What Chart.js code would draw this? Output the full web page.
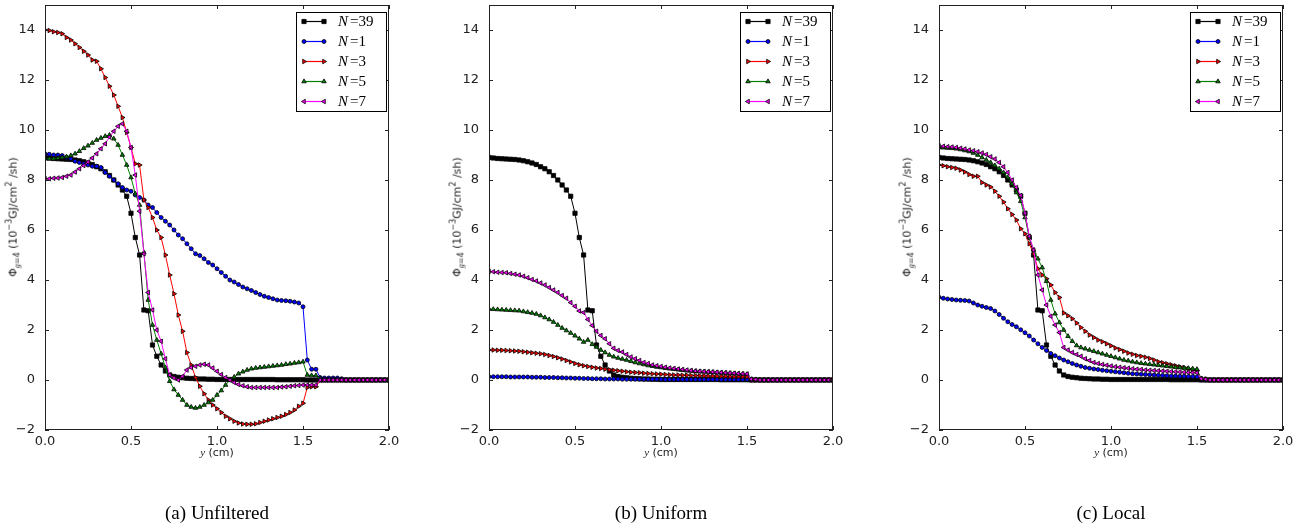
<!DOCTYPE html>
<html>
<head>
<meta charset="utf-8">
<script src="https://cdn.jsdelivr.net/npm/chart.js"></script>
<style>
  body { margin: 0; background: #fff; }
  #page { position: relative; width: 1307px; height: 529px; overflow: hidden; }
  .panel { position: absolute; top: 0; width: 400px; height: 460px; }
  .ytitle {
    position: absolute; top: 217px; white-space: nowrap;
    font: 11px "DejaVu Sans", sans-serif; color: #222;
    transform: translate(-50%, -50%) rotate(-90deg);
  }
  .xtitle {
    position: absolute; top: 452px; white-space: nowrap;
    font: 11px "DejaVu Sans", sans-serif; color: #222;
    transform: translate(-50%, -50%);
  }
  .caption {
    position: absolute; top: 513px; white-space: nowrap;
    font: 19px "Liberation Serif", serif; color: #000;
    transform: translate(-50%, -50%);
  }
  sub, sup { font-size: 8px; }
  i.m { font-family: "Liberation Serif", serif; }
</style>
</head>
<body>
<div id="page"></div>
<script>
// y positions (cm)
const yCm = [
  0, 0.025, 0.05, 0.075, 0.1, 0.125, 0.15, 0.175, 0.2, 0.225,
  0.25, 0.275, 0.3, 0.325, 0.35, 0.375, 0.4, 0.425, 0.45, 0.475,
  0.5, 0.525, 0.55, 0.575, 0.6, 0.625, 0.65, 0.675, 0.7, 0.725,
  0.75, 0.775, 0.8, 0.825, 0.85, 0.875, 0.9, 0.925, 0.95, 0.975,
  1.0, 1.025, 1.05, 1.075, 1.1, 1.125, 1.15, 1.175, 1.2, 1.225,
  1.25, 1.275, 1.3, 1.325, 1.35, 1.375, 1.4, 1.425, 1.45, 1.475,
  1.5, 1.525, 1.55, 1.575, 1.6, 1.625, 1.65, 1.675, 1.7, 1.725,
  1.75, 1.775, 1.8, 1.825, 1.85, 1.875, 1.9, 1.925, 1.95, 1.975, 2.0
];

const seriesN = [39, 1, 3, 5, 7];
const xTicks = [0, 0.5, 1.0, 1.5, 2.0];
const yTicks = [-2, 0, 2, 4, 6, 8, 10, 12, 14];
const captions = ['(a) Unfiltered', '(b) Uniform', '(c) Local'];

// N=39 reference, same in every panel
const ref39 = [
  8.9, 8.88, 8.86, 8.85, 8.84, 8.83, 8.82, 8.8, 8.77, 8.73,
  8.68, 8.62, 8.53, 8.45, 8.33, 8.18, 8.0, 7.8, 7.6, 7.35,
  6.67, 5.7, 5.0, 2.8, 2.77, 1.4, 0.95, 0.6, 0.36, 0.2,
  0.14, 0.11, 0.09, 0.07, 0.06, 0.05, 0.04, 0.04, 0.03, 0.03,
  0.02, 0.02, 0.02, 0.02, 0.02, 0.02, 0.02, 0.02, 0.02, 0.02,
  0.02, 0.02, 0.02, 0.02, 0.01, 0.01, 0.01, 0.01, 0.01, 0.01,
  0.01, 0, 0, 0, 0, 0, 0, 0, 0, 0,
  0, 0, 0, 0, 0, 0, 0, 0, 0, 0, 0
];

// (a) unfiltered
const unfN1 = [
  9.05, 9.03, 9.0, 9.0, 8.98, 8.9, 8.85, 8.75, 8.7, 8.65,
  8.6, 8.55, 8.55, 8.5, 8.3, 8.15, 8.0, 7.85, 7.7, 7.6,
  7.55, 7.4, 7.3, 7.2, 7.0, 6.9, 6.7, 6.5, 6.35, 6.2,
  6.0, 5.8, 5.65, 5.45, 5.25, 5.05, 4.98, 4.85, 4.7, 4.6,
  4.45, 4.3, 4.15, 4.0, 3.92, 3.82, 3.72, 3.65, 3.58, 3.5,
  3.42, 3.35, 3.3, 3.25, 3.2, 3.18, 3.17, 3.15, 3.12, 3.08,
  2.93, 0.8, 0.43, 0.43, 0.1, 0.08, 0.08, 0.08, 0.08, 0.05,
  0, 0, 0, 0, 0, 0, 0, 0, 0, 0, 0
];
const unfN3 = [
  14.0, 13.98, 13.93, 13.9, 13.85, 13.7, 13.6, 13.45, 13.3, 13.15,
  13.0, 12.8, 12.75, 12.45, 12.1, 11.75, 11.4, 10.95, 10.5, 9.9,
  9.3, 8.65, 8.6, 7.2, 6.9, 6.5, 6.0, 5.7, 5.0, 4.2,
  3.45, 2.6, 1.95, 1.1, 0.6, 0.1, -0.25, -0.55, -0.8, -1.0,
  -1.15, -1.3, -1.45, -1.55, -1.65, -1.72, -1.76, -1.77, -1.77, -1.75,
  -1.7, -1.65, -1.6, -1.55, -1.5, -1.45, -1.38, -1.3, -1.2, -1.05,
  -0.93, -0.3, -0.27, -0.27, 0, 0, 0, 0, 0, 0,
  0, 0, 0, 0, 0, 0, 0, 0, 0, 0, 0
];
const unfN5 = [
  8.85, 8.85, 8.85, 8.87, 8.9, 8.93, 8.98, 9.05, 9.15, 9.27,
  9.37, 9.48, 9.6, 9.68, 9.75, 9.8, 9.65, 9.4, 9.0, 8.6,
  8.1, 7.45, 7.0, 5.1, 3.2, 2.2, 1.6, 1.05, 0.5, -0.05,
  -0.38, -0.6, -0.8, -1.0, -1.08, -1.12, -1.08, -1.0, -0.9, -0.8,
  -0.6, -0.42, -0.2, 0.0, 0.12, 0.25, 0.33, 0.4, 0.45, 0.48,
  0.5, 0.52, 0.54, 0.56, 0.58, 0.6, 0.63, 0.65, 0.68, 0.7,
  0.73, 0.2, 0.18, 0.18, 0.05, 0, 0, 0, 0, 0,
  0, 0, 0, 0, 0, 0, 0, 0, 0, 0, 0
];
const unfN7 = [
  8.05, 8.05, 8.07, 8.08, 8.1, 8.15, 8.2, 8.32, 8.45, 8.58,
  8.72, 8.88, 9.05, 9.25, 9.45, 9.72, 9.95, 10.15, 10.25, 9.95,
  9.3, 8.2, 6.75, 5.05, 3.5, 2.8, 2.0, 1.55, 0.85, 0.2,
  0.08, 0.0, 0.15, 0.4, 0.5, 0.55, 0.6, 0.63, 0.6, 0.48,
  0.35, 0.22, 0.1, 0.0, -0.1, -0.18, -0.23, -0.27, -0.3, -0.3,
  -0.3, -0.3, -0.3, -0.3, -0.3, -0.28, -0.27, -0.25, -0.23, -0.22,
  -0.2, -0.2, -0.2, -0.2, 0, 0, 0, 0, 0, 0,
  0, 0, 0, 0, 0, 0, 0, 0, 0, 0, 0
];

// (b) uniform
const uniN1 = [
  0.13, 0.13, 0.13, 0.13, 0.13, 0.12, 0.12, 0.12, 0.12, 0.12,
  0.11, 0.11, 0.11, 0.1, 0.1, 0.1, 0.09, 0.09, 0.08, 0.08,
  0.07, 0.07, 0.06, 0.06, 0.05, 0.05, 0.05, 0.04, 0.04, 0.04,
  0.04, 0.03, 0.03, 0.03, 0.03, 0.03, 0.03, 0.03, 0.03, 0.03,
  0.03, 0.02, 0.02, 0.02, 0.02, 0.02, 0.02, 0.02, 0.02, 0.02,
  0.02, 0.02, 0.02, 0.02, 0.02, 0.02, 0.02, 0.02, 0.02, 0.02,
  0.02, 0, 0, 0, 0, 0, 0, 0, 0, 0,
  0, 0, 0, 0, 0, 0, 0, 0, 0, 0, 0
];
const uniN3 = [
  1.2, 1.2, 1.19, 1.19, 1.18, 1.17, 1.16, 1.15, 1.13, 1.11,
  1.09, 1.07, 1.05, 1.02, 0.98, 0.94, 0.89, 0.84, 0.78, 0.72,
  0.66, 0.61, 0.57, 0.54, 0.51, 0.48, 0.46, 0.43, 0.41, 0.39,
  0.37, 0.35, 0.33, 0.31, 0.3, 0.29, 0.27, 0.26, 0.25, 0.24,
  0.23, 0.22, 0.21, 0.2, 0.2, 0.19, 0.19, 0.18, 0.18, 0.17,
  0.17, 0.16, 0.16, 0.15, 0.15, 0.15, 0.14, 0.14, 0.14, 0.13,
  0.13, 0.01, 0, 0, 0, 0, 0, 0, 0, 0,
  0, 0, 0, 0, 0, 0, 0, 0, 0, 0, 0
];
const uniN5 = [
  2.84, 2.83, 2.82, 2.81, 2.8, 2.79, 2.78, 2.77, 2.74, 2.71,
  2.68, 2.64, 2.58, 2.5, 2.42, 2.32, 2.2, 2.08, 1.98, 1.88,
  1.77, 1.65, 1.52, 1.6, 1.43, 1.32, 1.2, 1.1, 1.0, 0.93,
  0.88, 0.84, 0.8, 0.75, 0.7, 0.66, 0.62, 0.58, 0.55, 0.52,
  0.5, 0.47, 0.45, 0.43, 0.41, 0.39, 0.37, 0.36, 0.35, 0.34,
  0.33, 0.32, 0.31, 0.3, 0.29, 0.28, 0.27, 0.26, 0.25, 0.24,
  0.23, 0.03, 0.02, 0, 0, 0, 0, 0, 0, 0,
  0, 0, 0, 0, 0, 0, 0, 0, 0, 0, 0
];
const uniN7 = [
  4.35, 4.33, 4.31, 4.3, 4.29, 4.26, 4.23, 4.2, 4.15, 4.09,
  4.02, 3.96, 3.88, 3.8, 3.7, 3.6, 3.5, 3.38, 3.27, 3.1,
  2.95, 2.76, 2.7, 2.42, 2.18, 1.95, 1.78, 1.65, 1.45, 1.27,
  1.18, 1.12, 1.02, 0.92, 0.85, 0.78, 0.7, 0.66, 0.6, 0.57,
  0.54, 0.51, 0.48, 0.46, 0.44, 0.42, 0.4, 0.38, 0.36, 0.35,
  0.34, 0.33, 0.32, 0.31, 0.3, 0.29, 0.28, 0.27, 0.26, 0.25,
  0.24, 0.03, 0.02, 0, 0, 0, 0, 0, 0, 0,
  0, 0, 0, 0, 0, 0, 0, 0, 0, 0, 0
];

// (c) local
const locN1 = [
  3.31, 3.27, 3.24, 3.22, 3.2, 3.19, 3.18, 3.16, 3.08, 3.0,
  2.95, 2.9, 2.86, 2.76, 2.62, 2.47, 2.33, 2.22, 2.13, 2.01,
  1.89, 1.76, 1.6, 1.45, 1.3, 1.18, 1.06, 0.97, 0.88, 0.8,
  0.73, 0.66, 0.6, 0.55, 0.5, 0.47, 0.44, 0.42, 0.39, 0.37,
  0.35, 0.33, 0.31, 0.29, 0.27, 0.25, 0.24, 0.23, 0.22, 0.21,
  0.2, 0.19, 0.18, 0.17, 0.16, 0.16, 0.15, 0.15, 0.14, 0.14,
  0.13, 0.02, 0, 0, 0, 0, 0, 0, 0, 0,
  0, 0, 0, 0, 0, 0, 0, 0, 0, 0, 0
];
const locN3 = [
  8.6, 8.57, 8.53, 8.5, 8.47, 8.4, 8.32, 8.22, 8.15, 8.15,
  7.9, 7.8, 7.72, 7.55, 7.35, 7.12, 6.85, 6.62, 6.4, 6.05,
  5.85, 5.45, 5.05, 4.45, 4.2, 4.05, 3.8, 3.5, 3.3, 2.68,
  2.57, 2.45, 2.28, 2.1, 1.95, 1.8, 1.7, 1.6, 1.53, 1.45,
  1.37, 1.28, 1.22, 1.15, 1.08, 1.03, 0.98, 0.95, 0.91, 0.86,
  0.8, 0.73, 0.69, 0.65, 0.61, 0.57, 0.53, 0.5, 0.45, 0.4,
  0.37, 0.05, 0.03, 0, 0, 0, 0, 0, 0, 0,
  0, 0, 0, 0, 0, 0, 0, 0, 0, 0, 0
];
const locN5 = [
  9.3, 9.29, 9.28, 9.27, 9.25, 9.22, 9.18, 9.14, 9.08, 9.0,
  8.9, 8.8, 8.7, 8.58, 8.45, 8.3, 8.1, 7.85, 7.5, 7.15,
  6.5, 5.7, 5.2, 4.85, 4.5, 3.95, 3.2, 2.65, 2.3, 2.0,
  1.75, 1.55, 1.38, 1.3, 1.25, 1.2, 1.15, 1.1, 1.05, 1.0,
  0.95, 0.9, 0.85, 0.8, 0.77, 0.73, 0.7, 0.67, 0.65, 0.63,
  0.61, 0.59, 0.57, 0.55, 0.53, 0.51, 0.5, 0.48, 0.47, 0.45,
  0.43, 0.05, 0.03, 0, 0, 0, 0, 0, 0, 0,
  0, 0, 0, 0, 0, 0, 0, 0, 0, 0, 0
];
const locN7 = [
  9.36, 9.35, 9.33, 9.32, 9.3, 9.27, 9.24, 9.2, 9.17, 9.13,
  9.08, 9.02, 8.93, 8.84, 8.7, 8.53, 8.3, 8.0, 7.7, 7.38,
  6.67, 5.75, 5.2, 4.2, 3.6, 3.0, 2.55, 2.2, 1.9, 1.3,
  1.2, 1.1, 1.02, 0.95, 0.85, 0.78, 0.7, 0.66, 0.62, 0.59,
  0.56, 0.53, 0.51, 0.49, 0.47, 0.45, 0.43, 0.42, 0.4, 0.39,
  0.38, 0.37, 0.36, 0.35, 0.34, 0.33, 0.32, 0.31, 0.3, 0.3,
  0.29, 0.05, 0.03, 0, 0, 0, 0, 0, 0, 0,
  0, 0, 0, 0, 0, 0, 0, 0, 0, 0, 0
];

const panels = [
  [ref39, unfN1, unfN3, unfN5, unfN7],
  [ref39, uniN1, uniN3, uniN5, uniN7],
  [ref39, locN1, locN3, locN5, locN7]
];

// line colour, marker shape, marker rotation, marker radius
const styles = [
  { color: '#000000', shape: 'rect', rot: 0, r: 3 },
  { color: '#0000ff', shape: 'circle', rot: 0, r: 2 },
  { color: '#ff0000', shape: 'triangle', rot: 90, r: 2.6 },
  { color: '#008000', shape: 'triangle', rot: 0, r: 2.6 },
  { color: '#ff00ff', shape: 'triangle', rot: -90, r: 2.6 }
];

function marker(ctx, st, x, y) {
  ctx.fillStyle = st.color;
  ctx.strokeStyle = '#000';
  ctx.lineWidth = 0.8;
  Chart.helpers.drawPoint(ctx, { pointStyle: st.shape, rotation: st.rot, radius: st.r, borderWidth: 0.8 }, x, y);
}

// frame with inward ticks on all four sides
const frame = {
  id: 'frame',
  afterDraw(chart) {
    const { ctx, chartArea: a, scales } = chart;
    ctx.save();
    ctx.strokeStyle = '#222';
    ctx.lineWidth = 1;
    ctx.strokeRect(a.left + 0.5, a.top + 0.5, a.right - a.left - 1, a.bottom - a.top - 1);
    ctx.beginPath();
    yTicks.forEach(v => {
      const p = Math.round(scales.y.getPixelForValue(v)) + 0.5;
      ctx.moveTo(a.left, p); ctx.lineTo(a.left + 4, p);
      ctx.moveTo(a.right, p); ctx.lineTo(a.right - 4, p);
    });
    xTicks.forEach(v => {
      const p = Math.round(scales.x.getPixelForValue(v)) + 0.5;
      ctx.moveTo(p, a.bottom); ctx.lineTo(p, a.bottom - 4);
      ctx.moveTo(p, a.top); ctx.lineTo(p, a.top + 4);
    });
    ctx.stroke();
    ctx.restore();
  }
};

// matplotlib-like legend: line with a marker at each end
const legendBox = {
  id: 'legendBox',
  afterDraw(chart) {
    const ctx = chart.ctx, a = chart.chartArea;
    const w = 90, h = 99;
    const x0 = a.right - 3 - w, y0 = a.top + 7;
    ctx.save();
    ctx.fillStyle = '#fff';
    ctx.fillRect(x0, y0, w, h);
    ctx.strokeStyle = '#000';
    ctx.lineWidth = 1;
    ctx.strokeRect(x0 + 0.5, y0 + 0.5, w, h);
    seriesN.forEach((n, i) => {
      const st = styles[i];
      const y = y0 + 9.5 + i * 20;
      const xa = x0 + 8, xb = x0 + 28;
      ctx.strokeStyle = st.color;
      ctx.lineWidth = 1.2;
      ctx.beginPath(); ctx.moveTo(xa, y); ctx.lineTo(xb, y); ctx.stroke();
      marker(ctx, st, xa, y);
      marker(ctx, st, xb, y);
      ctx.fillStyle = '#000';
      ctx.textBaseline = 'middle';
      ctx.textAlign = 'left';
      ctx.font = 'italic 15px "Liberation Serif", serif';
      ctx.fillText('N', x0 + 42, y + 1);
      const nw = ctx.measureText('N').width;
      ctx.font = '15px "Liberation Serif", serif';
      ctx.fillText('=' + n, x0 + 44 + nw, y + 1);
    });
    ctx.restore();
  }
};

const fmtY = v => (v < 0 ? '\u2212' + Math.abs(v) : String(v));

const page = document.getElementById('page');
const offsets = [0, 444, 894];

panels.forEach((series, p) => {
  const L = offsets[p];
  const wrap = document.createElement('div');
  wrap.className = 'panel';
  wrap.style.left = L + 'px';
  const canvas = document.createElement('canvas');
  canvas.width = 400; canvas.height = 460;
  wrap.appendChild(canvas);
  page.appendChild(wrap);

  const yt = document.createElement('div');
  yt.className = 'ytitle';
  yt.style.left = (L + 13) + 'px';
  yt.innerHTML = '&Phi;<sub><i class="m">g</i>=4</sub> (10<sup>\u22123</sup>GJ/cm<sup>2</sup> /sh)';
  page.appendChild(yt);

  const xt = document.createElement('div');
  xt.className = 'xtitle';
  xt.style.left = (L + 217) + 'px';
  xt.innerHTML = '<i class="m">y</i> (cm)';
  page.appendChild(xt);

  const cap = document.createElement('div');
  cap.className = 'caption';
  cap.style.left = (L + 217) + 'px';
  cap.textContent = captions[p];
  page.appendChild(cap);

  const datasets = series.map((vals, i) => ({
    label: 'N=' + seriesN[i],
    data: yCm.map((x, k) => ({ x: x, y: vals[k] })),
    borderColor: styles[i].color,
    borderWidth: 1,
    backgroundColor: styles[i].color,
    pointBackgroundColor: styles[i].color,
    pointBorderColor: '#000',
    pointBorderWidth: 0.8,
    pointStyle: styles[i].shape,
    pointRotation: styles[i].rot,
    pointRadius: styles[i].r,
    tension: 0,
    fill: false,
    order: 5 - i
  }));

  new Chart(canvas, {
    type: 'line',
    data: { datasets },
    options: {
      responsive: false,
      animation: false,
      devicePixelRatio: 1,
      events: [],
      layout: { padding: { left: 0, top: 5, right: 11, bottom: 10 } },
      plugins: { legend: { display: false }, tooltip: { enabled: false } },
      scales: {
        x: {
          type: 'linear', min: 0, max: 2,
          grid: { display: false }, border: { display: false },
          afterBuildTicks: s => { s.ticks = xTicks.map(v => ({ value: v })); },
          afterFit: s => { s.height = 20; s.paddingLeft = 0; s.paddingRight = 0; },
          ticks: {
            padding: -4, maxRotation: 0, color: '#222',
            font: { family: 'DejaVu Sans', size: 13 },
            callback: v => v.toFixed(1)
          }
        },
        y: {
          type: 'linear', min: -2, max: 15,
          grid: { display: false }, border: { display: false },
          afterBuildTicks: s => { s.ticks = yTicks.map(v => ({ value: v })); },
          afterFit: s => { s.width = 45; s.paddingTop = 0; s.paddingBottom = 0; },
          ticks: {
            padding: 2, color: '#222',
            font: { family: 'DejaVu Sans', size: 13 },
            callback: v => fmtY(v)
          }
        }
      }
    },
    plugins: [frame, legendBox]
  });
});
</script>
</body>
</html>
